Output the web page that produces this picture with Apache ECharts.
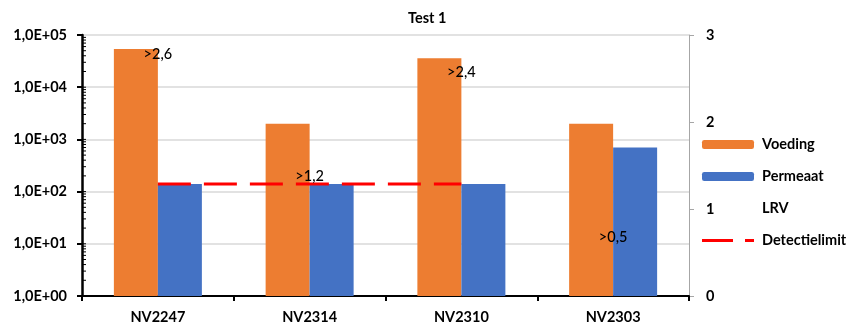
<!DOCTYPE html>
<html><head><meta charset="utf-8">
<script src="https://cdn.jsdelivr.net/npm/echarts@6/dist/echarts.min.js"></script>
<style>html,body{margin:0;padding:0;background:#fff}#c{width:859px;height:325px}</style>
</head><body><div id="c"></div>
<script>
const categories = ['NV2247', 'NV2314', 'NV2310', 'NV2303'];
const voeding = [54000, 2000, 36000, 2000];
const permeaat = [140, 140, 140, 700];
const lrv = [2.6, 1.2, 2.4, 0.5];
const lrvLabels = ['>2,6', '>1,2', '>2,4', '>0,5'];
const detectielimit = [140, 140, 140, null];

// log-axis minor tick positions (1..9 per decade)
const minorTicks = [];
for (let k = 0; k < 5; k++) for (let m = 1; m <= 9; m++) minorTicks.push([0, m * Math.pow(10, k)]);

const FONT = 'Lato';
const FS = 14.5;
const dashIcon = 'path://M0,0L0,0M0,3h31v3h-31zM43,3h9v3h-9zM52,9L52,9';
const chart = echarts.init(document.getElementById('c'), null, {renderer: 'canvas'});
chart.setOption({
  animation: false,
  backgroundColor: '#fff',
  textStyle: {fontFamily: FONT},
  title: {
    text: 'Test 1', left: 403, top: 6,
    textStyle: {fontFamily: FONT, fontSize: FS, fontWeight: 'bold', color: '#000'}
  },
  grid: {left: 82, right: 170, top: 35, bottom: 29, containLabel: false},
  legend: {
    orient: 'vertical', left: 702, top: 137, itemGap: 17,
    itemWidth: 52, itemHeight: 9, padding: 0,
    textStyle: {fontFamily: FONT, fontSize: FS, fontWeight: 'bold', color: '#000', padding: [0, 0, 0, 3]},
    data: ['Voeding', 'Permeaat', {name: 'LRV', icon: 'none'}, {name: 'Detectielimit', icon: dashIcon}]
  },
  xAxis: {
    type: 'category', data: categories,
    axisLine: {lineStyle: {color: '#000', width: 2}},
    axisTick: {show: true, length: 5, lineStyle: {color: '#000', width: 2}},
    axisLabel: {fontFamily: FONT, fontSize: FS, fontWeight: 'bold', color: '#000', margin: 14}
  },
  yAxis: [
    {
      type: 'log', logBase: 10, min: 1, max: 100000,
      axisLine: {show: true, lineStyle: {color: '#000', width: 2.5}},
      axisTick: {show: true, length: 5, lineStyle: {color: '#000', width: 2}},
      splitLine: {show: true, lineStyle: {color: '#d9d9d9', width: 1.5}},
      axisLabel: {
        fontFamily: FONT, fontSize: FS, fontWeight: 'bold', color: '#000', margin: 15,
        formatter: v => '1,0E+' + String(Math.round(Math.log10(v))).padStart(2, '0')
      }
    },
    {
      type: 'value', min: 0, max: 3, interval: 1, position: 'right',
      axisLine: {show: true, lineStyle: {color: '#a6a6a6', width: 1}},
      axisTick: {show: true, length: 5, lineStyle: {color: '#a6a6a6'}},
      splitLine: {show: false},
      axisLabel: {fontFamily: FONT, fontSize: FS, fontWeight: 'bold', color: '#000', margin: 17}
    }
  ],
  series: [
    {
      name: 'Voeding', type: 'bar', data: voeding, barWidth: 44, barGap: '0%',
      itemStyle: {color: '#ED7D31'}
    },
    {
      name: 'Permeaat', type: 'bar', data: permeaat, barWidth: 44, barGap: '0%',
      itemStyle: {color: '#4472C4'}
    },
    {
      name: 'Detectielimit', type: 'line', data: detectielimit, symbol: 'none', z: 5,
      itemStyle: {color: '#FF0000'},
      lineStyle: {color: '#FF0000', width: 3, type: [33, 13]}
    },
    {
      name: 'LRV', type: 'line', yAxisIndex: 1, data: lrv, z: 6,
      symbol: 'circle', symbolSize: 1,
      itemStyle: {color: 'rgba(0,0,0,0)'},
      lineStyle: {color: 'rgba(0,0,0,0)', width: 0},
      label: {
        show: true, position: 'top', distance: 7,
        fontFamily: FONT, fontSize: 14.5, fontWeight: 500, color: '#000',
        formatter: p => lrvLabels[p.dataIndex]
      }
    },
    {
      name: 'ticks', type: 'custom', data: minorTicks, silent: true, z: 10,
      encode: {x: 0, y: 1},
      renderItem: (params, api) => {
        const y = api.coord([0, api.value(1)])[1];
        const x0 = params.coordSys.x;
        return {type: 'line', shape: {x1: x0, y1: y, x2: x0 + 4, y2: y},
                style: {stroke: '#000', lineWidth: 1}};
      }
    }
  ]
});
</script></body></html>
